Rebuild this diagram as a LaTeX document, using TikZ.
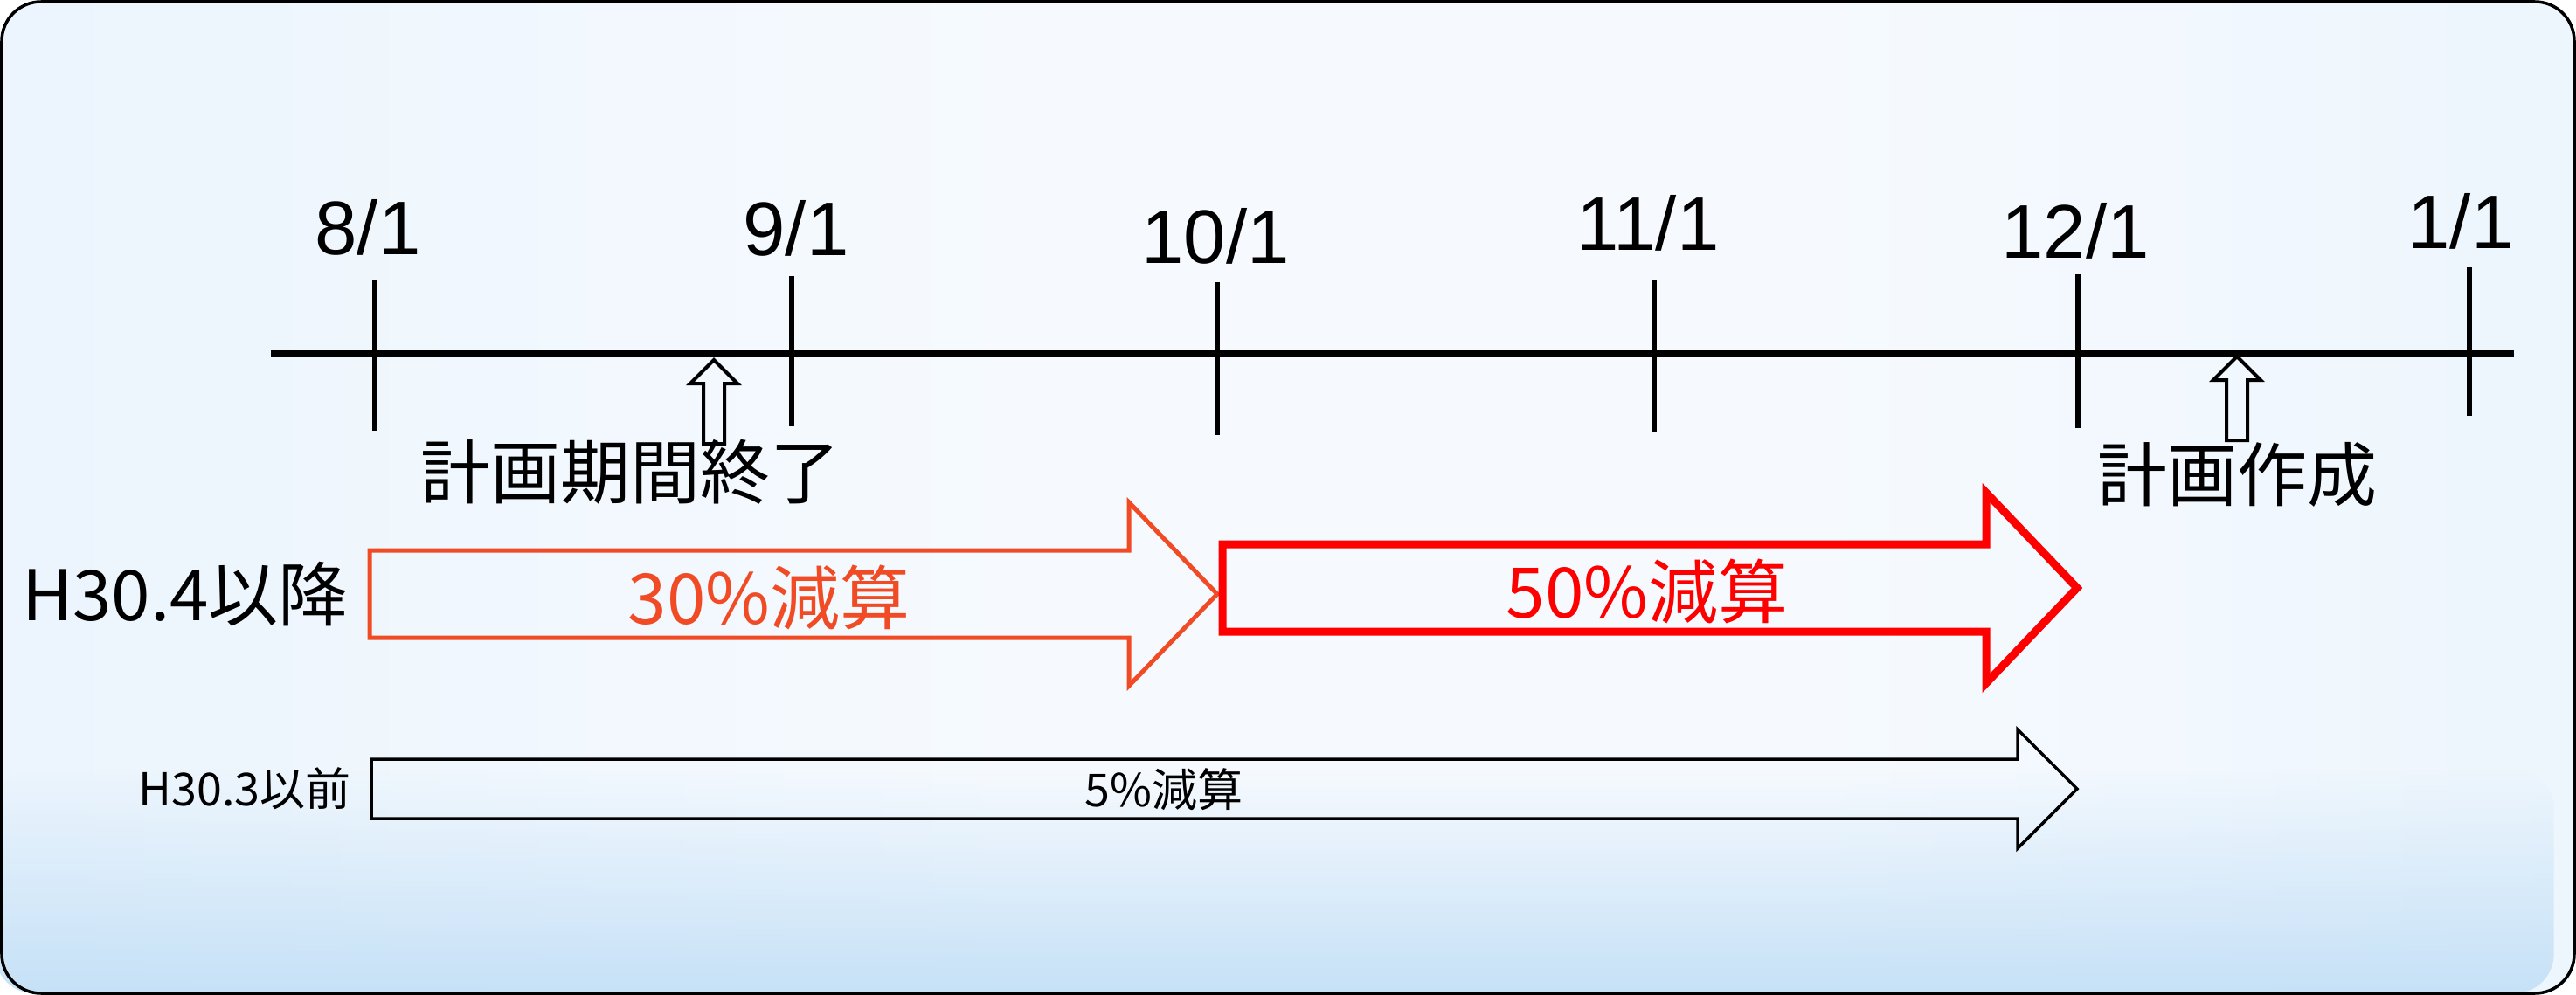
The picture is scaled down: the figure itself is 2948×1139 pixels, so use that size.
\documentclass[tikz,border=0pt]{standalone}
\usepackage{fontspec}
\setmainfont{Liberation Sans}
\newfontfamily\jpfont{Noto Sans CJK JP}
\usetikzlibrary{fadings}
\definecolor{bgL}{HTML}{D0E7FB}
\definecolor{bgQ}{HTML}{EAF4FD}
\definecolor{bgM}{HTML}{F6FAFE}
\definecolor{bgR}{HTML}{D4E9F9}
\definecolor{bgB}{HTML}{C6E1F7}
\definecolor{arrowOrange}{HTML}{F04B25}
\definecolor{arrowRed}{HTML}{FF0000}
\pgfdeclarehorizontalshading{bgshade}{100bp}{color(0bp)=(bgL); color(22bp)=(bgQ); color(45bp)=(bgM); color(60bp)=(bgM); color(80bp)=(bgQ); color(100bp)=(bgR)}
\tikzfading[name=fadebottom, top color=transparent!100, bottom color=transparent!0]
\newcommand\blkarrow[7]{%
  \draw[#1] (#2,#5-#6) -- (#3,#5-#6) -- (#3,#5-#7) -- (#4,#5) -- (#3,#5+#7) -- (#3,#5+#6) -- (#2,#5+#6) -- cycle;}
\newcommand\uparr[5]{% tipx, tipy, headbase y, bottom y, name
  \coordinate (#5) at (#1,#2);
  \draw[uparrow] (#5) -- (#1+27,#3) -- (#1+12,#3) -- (#1+12,#4) -- (#1-12,#4) -- (#1-12,#3) -- (#1-27,#3) -- cycle;}
\begin{document}
\begin{tikzpicture}[x=1pt,y=-1pt,
  datelbl/.style={inner sep=0pt, anchor=base, font=\fontsize{87}{90}\selectfont},
  jpbig/.style={inner sep=0pt, font=\jpfont\fontsize{80}{84}\selectfont},
  jpsmall/.style={inner sep=0pt, font=\jpfont\fontsize{52}{56}\selectfont},
  tick/.style={line width=6pt},
  uparrow/.style={line width=4pt, line join=miter},
  line join=miter]
\useasboundingbox (0,0) rectangle (2948,1139);
% background
\shade[shading=bgshade, rounded corners=45pt] (2,2) rectangle (2946,1137);
\fill[bgB, path fading=fadebottom, rounded corners=45pt] (2,880) rectangle (2946,1137);
\draw[line width=3.5pt, rounded corners=45pt] (2,2) rectangle (2946,1137);
% timeline
\coordinate (tlL) at (310,405);
\coordinate (tlR) at (2877,405);
\draw[line width=8pt] (tlL) -- (tlR);
% ticks
\coordinate (k8a) at (429,320); \coordinate (k8b) at (429,493);
\coordinate (k9a) at (906,316); \coordinate (k9b) at (906,488);
\coordinate (k10a) at (1393,323); \coordinate (k10b) at (1393,498);
\coordinate (k11a) at (1893,320); \coordinate (k11b) at (1893,494);
\coordinate (k12a) at (2378,314); \coordinate (k12b) at (2378,490);
\coordinate (k1a) at (2826,306); \coordinate (k1b) at (2826,476);
\draw[tick] (k8a) -- (k8b);
\draw[tick] (k9a) -- (k9b);
\draw[tick] (k10a) -- (k10b);
\draw[tick] (k11a) -- (k11b);
\draw[tick] (k12a) -- (k12b);
\draw[tick] (k1a) -- (k1b);
% date labels
\node[datelbl] (l8) at (421,292) {8/1};
\node[datelbl] (l9) at (911,293) {9/1};
\node[datelbl] (l10) at (1391,302) {10/1};
\node[datelbl] (l11) at (1886,287) {11/1};
\node[datelbl] (l12) at (2375,296) {12/1};
\node[datelbl] (l1) at (2816,285) {1/1};
% up arrows
\uparr{817}{412}{439}{508}{ua1}
\uparr{2560}{408}{435}{504}{ua2}
\node[jpbig] (endlbl) at (721,540) {計画期間終了};
\node[jpbig] (planlbl) at (2560,543) {計画作成};
% block arrows
\blkarrow{draw=arrowOrange, line width=5pt}{423}{1292}{1393}{680}{50}{105}
\blkarrow{draw=arrowRed, line width=9pt}{1399}{2273}{2377}{673}{50}{109}
\blkarrow{draw=black, line width=3.5pt}{425}{2309}{2377}{903}{34}{68}
\node[jpbig, text=arrowOrange] (t30) at (880,684) {30\%減算};
\node[jpbig, text=arrowRed] (t50) at (1885,677) {50\%減算};
\node[jpsmall] (t5) at (1332,904) {5\%減算};
% row labels
\node[jpbig, anchor=east] (h304) at (399,680) {H30.4以降};
\node[jpsmall, anchor=east] (h303) at (402,903) {H30.3以前};
\end{tikzpicture}
\end{document}
